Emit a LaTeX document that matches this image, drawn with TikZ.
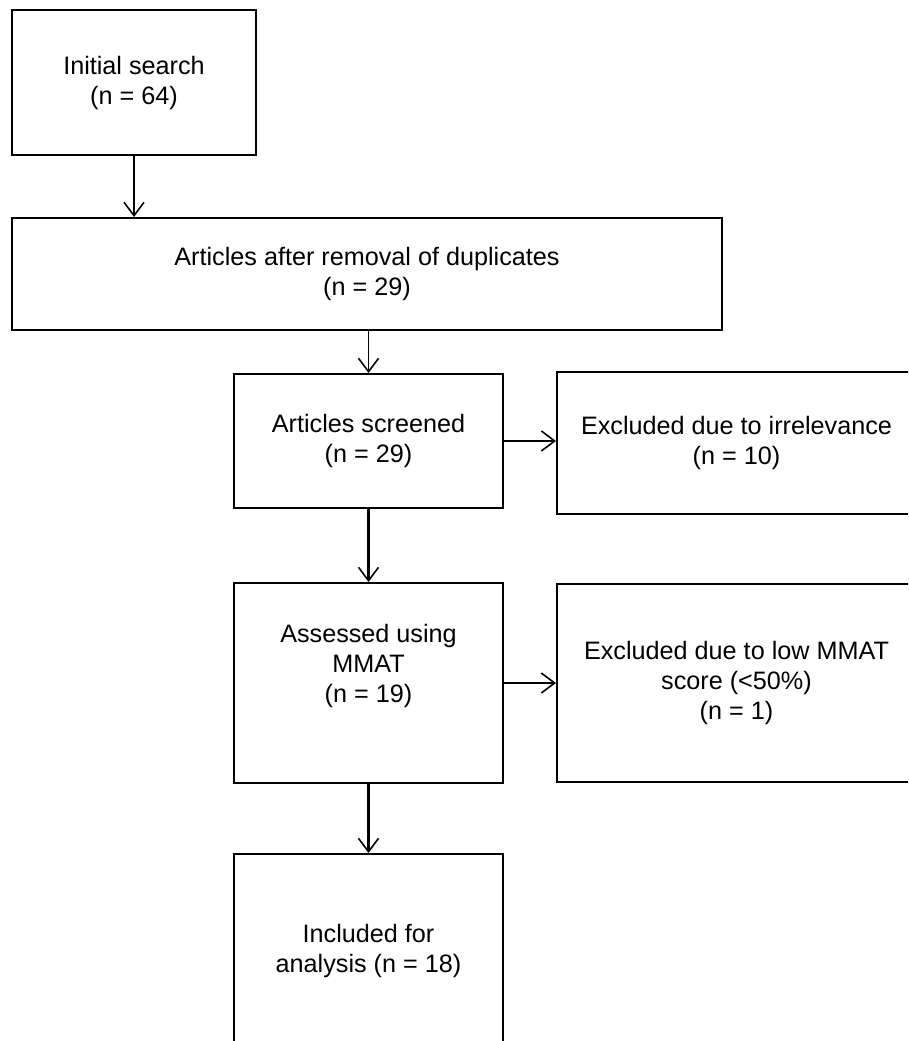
\documentclass[tikz,border=0pt]{standalone}
\usepackage{fontspec}
\setmainfont{Liberation Sans}
\usetikzlibrary{arrows.meta}
\begin{document}
\begin{tikzpicture}[x=0.75pt,y=-0.75pt,
  box/.style={draw=black,line width=1.5pt,fill=white,align=center,inner sep=0pt,
    font=\fontsize{18.9}{22.5}\selectfont},
  arr/.style={-{Straight Barb[length=10pt,width=15pt,line width=1.2pt]},line width=1.2pt},
  thickarr/.style={arr,line width=1.6pt}]
\useasboundingbox (0,0) rectangle (908,1041);
\clip (0,0) rectangle (908,1041);
\fill[white] (0,0) rectangle (908,1041);
\node[box,minimum width=183pt,minimum height=108.75pt] (b1) at (134,82.5) {Initial search\\(n = 64)};
\node[box,minimum width=532.5pt,minimum height=84pt] (b2) at (367,274) {Articles after removal of duplicates\\(n = 29)};
\node[box,minimum width=201.75pt,minimum height=100.5pt] (b3) at (368.5,441) {Articles screened\\(n = 29)};
\node[box,minimum width=269.25pt,minimum height=106.5pt] (b4) at (736.5,443) {Excluded due to irrelevance\\(n = 10)};
\node[box,minimum width=201.75pt,minimum height=150pt] (b5) at (368.5,683) {Assessed using\\MMAT\\(n = 19)\\\strut};
\node[box,minimum width=269.25pt,minimum height=148.5pt] (b6) at (736.5,683) {Excluded due to low MMAT\\score (<50\%)\\(n = 1)};
\node[box,minimum width=201.75pt,minimum height=145.5pt] (b7) at (368.5,951) {Included for\\analysis (n = 18)};
\draw[arr] (b1.south) -- (b1.south |- b2.north);
\draw[arr] (b3.north |- b2.south) -- (b3.north);
\draw[arr] (b3.east) -- (b3.east -| b4.west);
\draw[thickarr] (b3.south) -- (b5.north);
\draw[arr] (b5.east) -- (b5.east -| b6.west);
\draw[thickarr] (b5.south) -- (b7.north);
\end{tikzpicture}
\end{document}
